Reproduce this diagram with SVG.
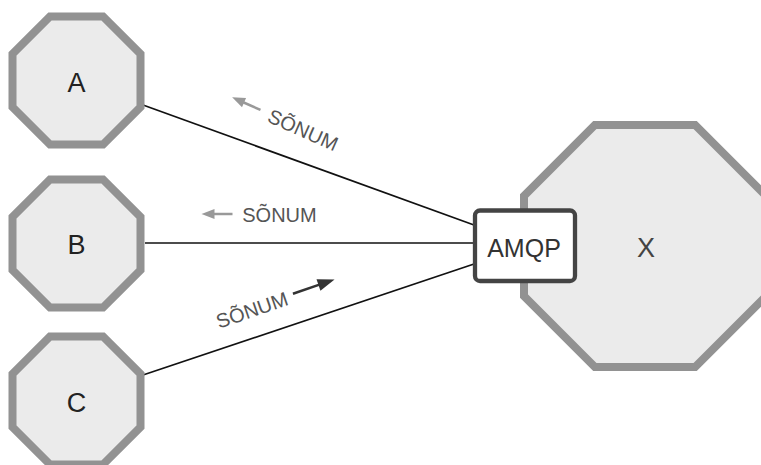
<svg xmlns="http://www.w3.org/2000/svg" width="761" height="465" viewBox="0 0 761 465">
  <defs>
    <style>
      .oct { fill: #ebebeb; stroke: #929292; stroke-width: 8; stroke-linejoin: miter; }
      .letter { font-family: "Liberation Sans", Arial, sans-serif; font-size: 27px; fill: #222; text-anchor: middle; }
      .link { stroke: #111; stroke-width: 1.7; fill: none; }
      .msg { font-family: "Liberation Sans", Arial, sans-serif; font-size: 20px; fill: #555; text-anchor: middle; }
      .amqp-box { fill: #fff; stroke: #444; stroke-width: 4.3; }
    </style>
    <polygon id="small-oct" points="-26.5,-64 26.5,-64 64,-26.5 64,26.5 26.5,64 -26.5,64 -64,26.5 -64,-26.5"/>
  </defs>

  <!-- Connectors: client nodes to the AMQP endpoint -->
  <g id="connectors">
    <line class="link" x1="143" y1="105" x2="474" y2="225"/>
    <line class="link" x1="145" y1="243" x2="474" y2="243"/>
    <line class="link" x1="143" y1="375" x2="474" y2="264"/>

    <!-- message labels with direction arrows -->
    <g id="label-a" transform="translate(303,130) rotate(24)">
      <line x1="-66" y1="-1" x2="-47" y2="-1" stroke="#999" stroke-width="2.5"/>
      <polygon points="-78,-1 -65,-6 -65,4" fill="#999"/>
      <text class="msg" x="0" y="7">SÕNUM</text>
    </g>
    <g id="label-b" transform="translate(279.5,214.5)">
      <line x1="-66" y1="-0.5" x2="-47" y2="-0.5" stroke="#999" stroke-width="2.5"/>
      <polygon points="-78,-0.5 -65,-5.5 -65,4.5" fill="#999"/>
      <text class="msg" x="0" y="7">SÕNUM</text>
    </g>
    <g id="label-c" transform="translate(252,310) rotate(-19)">
      <line x1="44" y1="-2" x2="72" y2="-2" stroke="#333" stroke-width="2.5"/>
      <polygon points="88,-2 71,-8 71,4" fill="#333"/>
      <text class="msg" x="0" y="7">SÕNUM</text>
    </g>
  </g>

  <!-- Client nodes -->
  <g id="node-a" transform="translate(76.5,80.5)">
    <use href="#small-oct" class="oct"/>
    <text class="letter" x="0" y="11">A</text>
  </g>
  <g id="node-b" transform="translate(76.5,243.5)">
    <use href="#small-oct" class="oct"/>
    <text class="letter" x="0" y="10.5">B</text>
  </g>
  <g id="node-c" transform="translate(76.5,400.5)">
    <use href="#small-oct" class="oct"/>
    <text class="letter" x="0" y="11">C</text>
  </g>

  <!-- Server node X -->
  <g id="node-x">
    <polygon class="oct" points="594.9,125 695.1,125 766,195.9 766,296.1 695.1,367 594.9,367 524,296.1 524,195.9"/>
    <text class="letter" x="646" y="257" style="fill:#444">X</text>
  </g>

  <!-- AMQP endpoint on X -->
  <g id="node-amqp">
    <rect class="amqp-box" x="475" y="210.5" width="100" height="70.5" rx="5"/>
    <text class="letter" x="524" y="257" style="font-size:25px;fill:#333">AMQP</text>
  </g>
</svg>
